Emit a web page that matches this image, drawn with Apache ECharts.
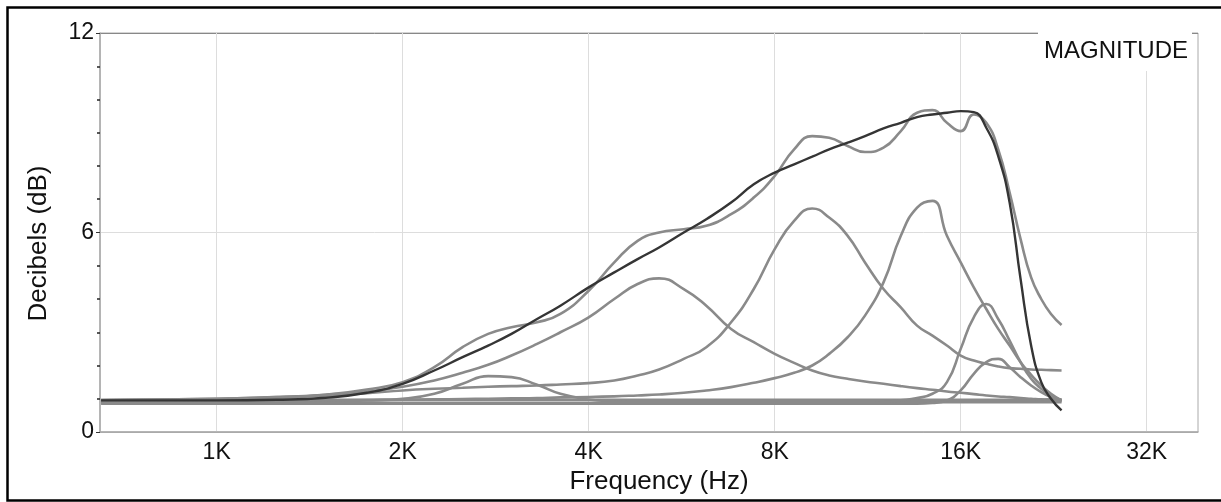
<!DOCTYPE html>
<html><head><meta charset="utf-8">
<script src="https://cdn.jsdelivr.net/npm/echarts@6/dist/echarts.min.js"></script>
<style>html,body{margin:0;padding:0;background:#fff}#c{width:1221px;height:502px}</style>
</head><body><div id="c"></div>
<script>
// Frequencies (Hz) shared by every curve
const freqs = [650, 1000, 1250, 1500, 1750, 2000, 2250, 2500, 2750, 3000, 3300, 3600, 4000, 4400, 4800, 5200, 5700, 6200, 6800, 7400, 8000, 8600, 9200, 9800, 10500, 11200, 12000, 12800, 13600, 14400, 15200, 16000, 16800, 17600, 18400, 19200, 20000, 20800, 21600, 22400, 23300];
// Target response (dark curve), dB
const target = [0.95, 0.95, 0.97, 1.03, 1.18, 1.45, 1.85, 2.25, 2.6, 2.95, 3.4, 3.8, 4.35, 4.8, 5.2, 5.55, 6.0, 6.4, 6.9, 7.45, 7.8, 8.05, 8.28, 8.5, 8.7, 8.9, 9.13, 9.3, 9.47, 9.55, 9.6, 9.65, 9.62, 9.15, 8.3, 6.9, 4.6, 2.6, 1.5, 1.0, 0.65];
// Combined response of the bands (wavy gray curve)
const combined = [0.95, 0.97, 1.02, 1.12, 1.28, 1.5, 1.95, 2.55, 2.95, 3.15, 3.3, 3.55, 4.25, 5.1, 5.75, 6.0, 6.1, 6.2, 6.55, 7.05, 7.7, 8.5, 8.9, 8.85, 8.6, 8.42, 8.55, 9.05, 9.6, 9.68, 9.3, 9.05, 9.55, 9.3, 8.5, 7.2, 5.8, 4.65, 4.0, 3.55, 3.22];
// Individual bands
const band1 = [0.9, 0.9, 0.9, 0.92, 0.95, 1.0, 1.15, 1.45, 1.68, 1.65, 1.42, 1.15, 0.98, 0.92, 0.9, 0.9, 0.9, 0.9, 0.9, 0.9, 0.9, 0.9, 0.9, 0.9, 0.9, 0.9, 0.9, 0.9, 0.9, 0.9, 0.9, 0.9, 0.9, 0.9, 0.9, 0.9, 0.9, 0.9, 0.9, 0.9, 0.9];
const band2 = [0.95, 1.0, 1.05, 1.12, 1.22, 1.36, 1.55, 1.78, 2.02, 2.3, 2.65, 3.0, 3.45, 4.0, 4.45, 4.62, 4.3, 3.8, 3.1, 2.7, 2.35, 2.08, 1.85, 1.7, 1.6, 1.52, 1.45, 1.38, 1.32, 1.27, 1.22, 1.18, 1.14, 1.1, 1.07, 1.05, 1.02, 1.0, 0.98, 0.97, 0.96];
const band3 = [0.95, 1.0, 1.05, 1.1, 1.17, 1.25, 1.3, 1.33, 1.36, 1.38, 1.4, 1.43, 1.47, 1.55, 1.7, 1.88, 2.2, 2.55, 3.3, 4.3, 5.5, 6.35, 6.72, 6.45, 5.9, 5.1, 4.3, 3.75, 3.2, 2.9, 2.6, 2.3, 2.15, 2.05, 1.97, 1.92, 1.9, 1.88, 1.87, 1.86, 1.85];
const band4 = [0.92, 0.93, 0.94, 0.95, 0.96, 0.97, 0.98, 0.99, 1.0, 1.01, 1.02, 1.04, 1.05, 1.07, 1.1, 1.13, 1.18, 1.25, 1.35, 1.48, 1.62, 1.78, 2.0, 2.35, 2.85, 3.5, 4.5, 5.9, 6.75, 6.95, 5.9, 5.1, 4.35, 3.7, 3.1, 2.6, 2.1, 1.72, 1.4, 1.15, 0.95];
const band5 = [0.88, 0.88, 0.88, 0.88, 0.88, 0.88, 0.88, 0.88, 0.88, 0.88, 0.88, 0.88, 0.88, 0.88, 0.88, 0.88, 0.88, 0.88, 0.88, 0.88, 0.88, 0.88, 0.88, 0.88, 0.88, 0.88, 0.9, 0.95, 1.02, 1.15, 1.5, 2.5, 3.45, 3.85, 3.4, 2.75, 2.1, 1.6, 1.3, 1.1, 0.95];
const band6 = [0.85, 0.85, 0.85, 0.85, 0.85, 0.85, 0.85, 0.85, 0.85, 0.85, 0.85, 0.85, 0.85, 0.85, 0.85, 0.85, 0.85, 0.85, 0.85, 0.85, 0.85, 0.85, 0.85, 0.85, 0.85, 0.85, 0.85, 0.85, 0.85, 0.87, 0.95, 1.25, 1.75, 2.1, 2.2, 1.95, 1.65, 1.4, 1.2, 1.05, 0.92];
const band0 = [0.97, 0.97, 0.97, 0.97, 0.97, 0.97, 0.97, 0.97, 0.97, 0.97, 0.97, 0.97, 0.97, 0.97, 0.97, 0.97, 0.97, 0.97, 0.97, 0.97, 0.97, 0.97, 0.97, 0.97, 0.97, 0.97, 0.97, 0.97, 0.97, 0.97, 0.97, 0.97, 0.97, 0.97, 0.97, 0.97, 0.97, 0.97, 0.97, 0.98, 0.98];
// Axis ticks
const xTicks = [1000, 2000, 4000, 8000, 16000, 32000];
const yMin = 0, yMax = 12, yStep = 6;

const FONT = '"Liberation Sans", Arial, Helvetica, sans-serif';
const grayBands = [band0, band1, band2, band3, band4, band5, band6, combined];
const pairs = arr => freqs.map((f, i) => [f, arr[i]]);

const series = grayBands.map(arr => ({
  type: 'line', data: pairs(arr), showSymbol: false, smooth: 0.5,
  lineStyle: { color: '#8a8a8a', width: 2.6 }, silent: true
}));
series.push({
  type: 'line', data: pairs(target), showSymbol: false, smooth: 0.5,
  lineStyle: { color: '#353535', width: 2.4 }, silent: true, z: 5
});

const chart = echarts.init(document.getElementById('c'), null, { renderer: 'canvas' });
chart.setOption({
  animation: false,
  backgroundColor: '#fff',
  grid: { left: 100, top: 33, right: 23, bottom: 70, show: true, borderColor: '#aaa', borderWidth: 1 },
  xAxis: {
    type: 'log', logBase: 2, min: 647.4, max: 38740,
    axisLine: { show: true, lineStyle: { color: '#aaa', width: 1.5 } },
    axisTick: { show: false, customValues: xTicks },
    axisLabel: { customValues: xTicks, formatter: v => (v / 1000) + 'K', fontSize: 23, color: '#111', margin: 9, fontFamily: FONT },
    splitLine: { show: true, lineStyle: { color: '#ddd', width: 1 } },
    name: 'Frequency (Hz)', nameLocation: 'middle', nameGap: 36,
    nameTextStyle: { fontSize: 26, color: '#111', fontFamily: FONT, padding: [0, 0, 0, 20] }
  },
  yAxis: {
    type: 'value', min: yMin, max: yMax, interval: yStep,
    axisLine: { show: true, lineStyle: { color: '#aaa', width: 1.5 } },
    axisTick: { show: true, length: 4, lineStyle: { color: '#333' } },
    minorTick: { show: true, splitNumber: 6, length: 3, lineStyle: { color: '#222', width: 1.5 } },
    axisLabel: { fontSize: 23, color: '#111', margin: 6, fontFamily: FONT },
    splitLine: { show: true, lineStyle: { color: ['#aaa', '#ddd', '#888'], width: 1 } },
    name: 'Decibels (dB)', nameLocation: 'middle', nameGap: 48,
    nameTextStyle: { fontSize: 26, color: '#111', fontFamily: FONT, padding: [0, 22, 0, 0] }
  },
  series: series,
  graphic: [
    { type: 'text', x: 1192, y: 51, z: 10, silent: true,
      style: { text: 'MAGNITUDE', fontSize: 24, fontFamily: FONT, fill: '#111', align: 'right', verticalAlign: 'middle',
               backgroundColor: '#fff', padding: [8, 4, 8, 6] } },
    { type: 'rect', z: 20, silent: true, shape: { x: 7.5, y: 7.5, width: 1230, height: 493 },
      style: { fill: 'none', stroke: '#000', lineWidth: 2.5 } }
  ]
});
</script></body></html>
